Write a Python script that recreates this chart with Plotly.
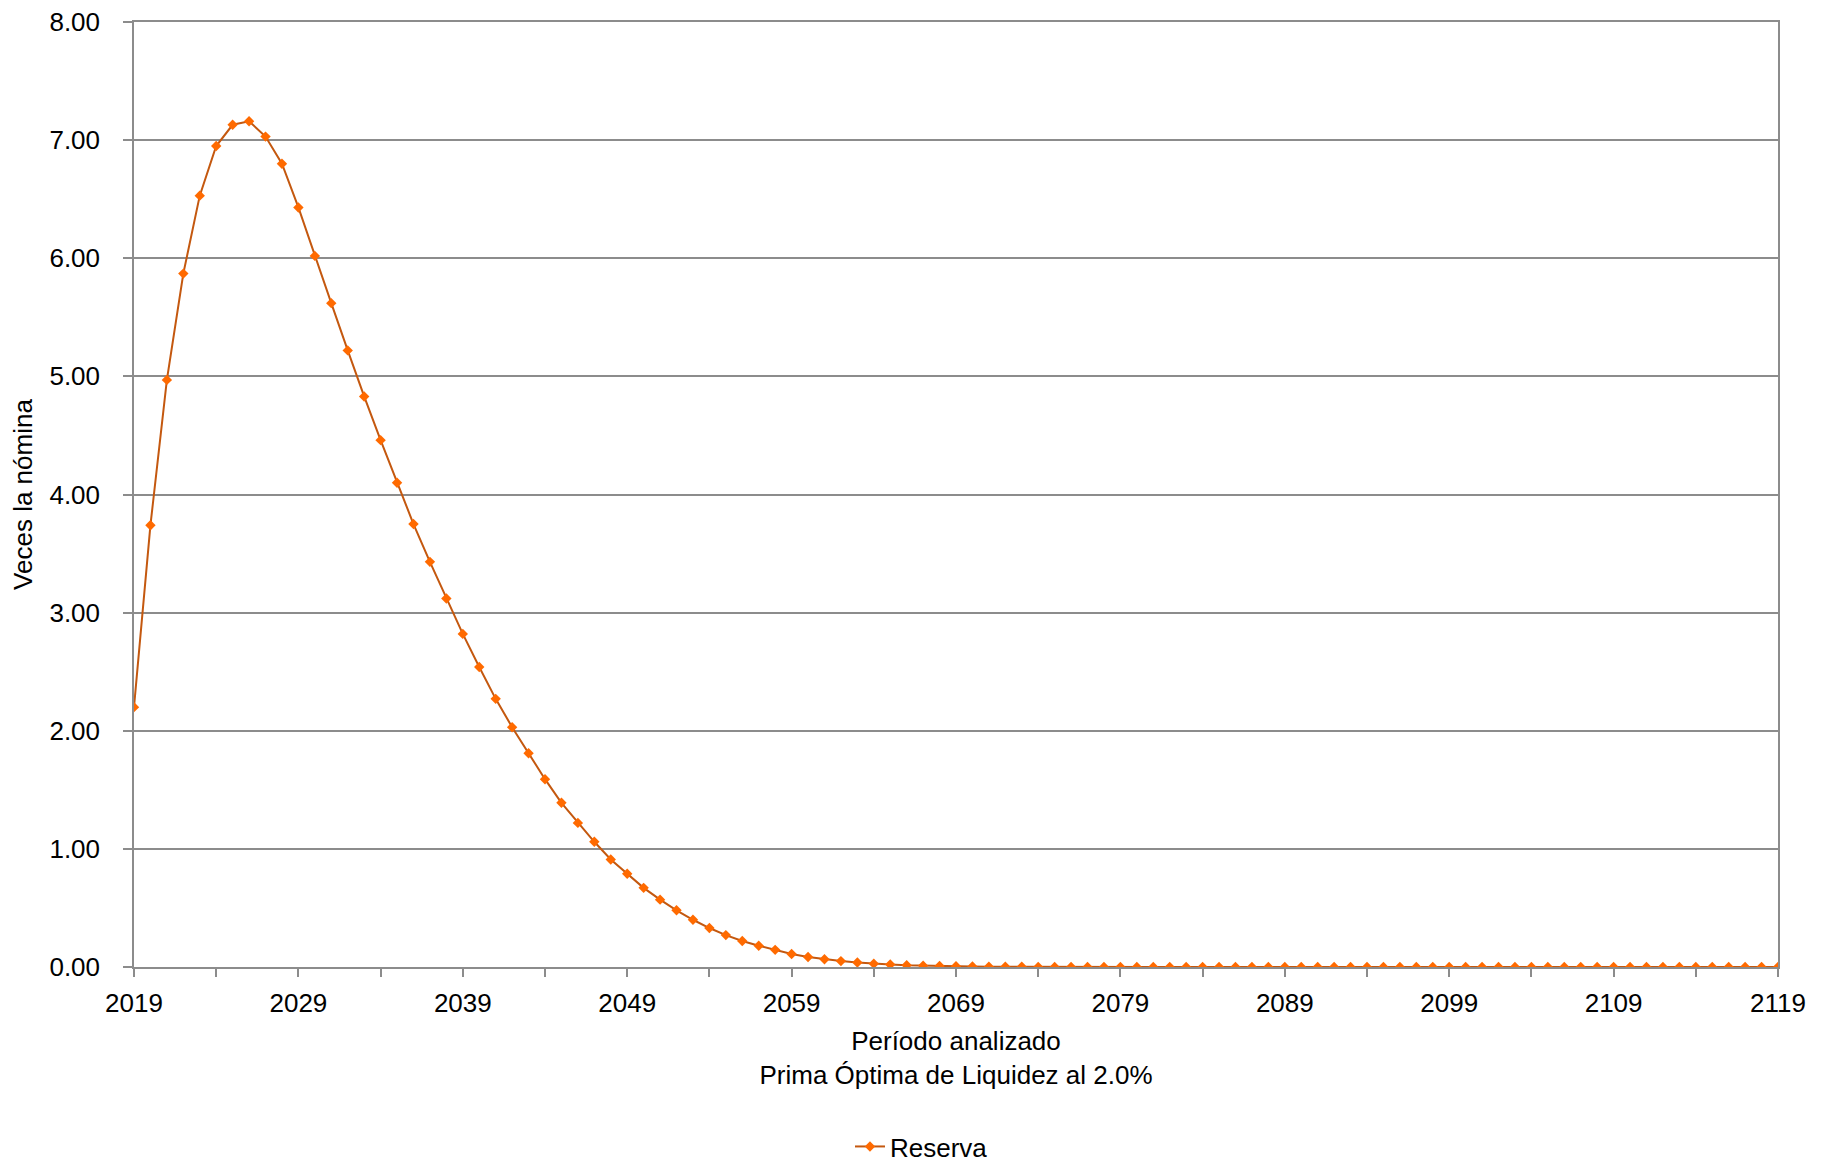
import plotly.graph_objects as go

years = list(range(2019, 2120))
reserva = [
    2.20, 3.74, 4.97, 5.87, 6.53, 6.95, 7.13, 7.16, 7.03, 6.80,
    6.43, 6.02, 5.62, 5.22, 4.83, 4.46, 4.10, 3.75, 3.43, 3.12,
    2.82, 2.54, 2.27, 2.03, 1.81, 1.59, 1.39, 1.22, 1.06, 0.91,
    0.79, 0.67, 0.57, 0.48, 0.40, 0.33, 0.27, 0.22, 0.18, 0.145,
    0.11, 0.085, 0.065, 0.05, 0.038, 0.028, 0.021, 0.015, 0.011, 0.008,
    0.006, 0.004, 0.003, 0.002, 0.0015, 0.001, 0.001, 0.0005, 0.0005, 0.0,
    0.0, 0.0, 0.0, 0.0, 0.0, 0.0, 0.0, 0.0, 0.0, 0.0,
    0.0, 0.0, 0.0, 0.0, 0.0, 0.0, 0.0, 0.0, 0.0, 0.0,
    0.0, 0.0, 0.0, 0.0, 0.0, 0.0, 0.0, 0.0, 0.0, 0.0,
    0.0, 0.0, 0.0, 0.0, 0.0, 0.0, 0.0, 0.0, 0.0, 0.0,
    0.0,
]
x_tick_vals = list(range(2019, 2120, 5))
x_tick_text = [str(v) if (v - 2019) % 10 == 0 else "" for v in x_tick_vals]
y_tick_vals = [0, 1, 2, 3, 4, 5, 6, 7, 8]
y_tick_text = ["0.00", "1.00", "2.00", "3.00", "4.00", "5.00", "6.00", "7.00", "8.00"]

FONT = "Liberation Sans, Arial, sans-serif"
GRID = "#8c8c8c"
FS = 26

fig = go.Figure()
fig.add_trace(go.Scatter(
    x=years, y=reserva, mode="lines+markers", name="Reserva",
    line=dict(color="#C4580F", width=2),
    marker=dict(symbol="diamond", size=8, color="#FF6A00"),
))

fig.update_layout(
    width=1821, height=1154,
    paper_bgcolor="white", plot_bgcolor="white",
    margin=dict(l=126, r=51, t=14, b=195, autoexpand=False),
    font=dict(family=FONT, size=FS, color="black"),
    showlegend=True,
    legend=dict(orientation="h", x=0.479, xanchor="center", y=-0.19, yanchor="middle",
                font=dict(size=FS)),
)
fig.update_xaxes(
    range=[2019, 2119], tickmode="array", tickvals=x_tick_vals, ticktext=x_tick_text,
    ticks="outside", ticklen=8, tickcolor=GRID, tickwidth=1.5,
    showline=True, linecolor=GRID, linewidth=1.5, mirror=True,
    showgrid=False, zeroline=False, automargin=False, ticklabeloverflow="allow",
    tickfont=dict(size=FS), ticklabelstandoff=4,
    title=dict(text="Período analizado<br>Prima Óptima de Liquidez al 2.0%", font=dict(size=FS), standoff=15),
)
fig.update_yaxes(
    range=[0, 8], tickmode="array", tickvals=y_tick_vals, ticktext=y_tick_text,
    ticks="outside", ticklen=9, tickcolor=GRID, tickwidth=1.5,
    showline=True, linecolor=GRID, linewidth=1.5, mirror=True,
    showgrid=True, gridcolor=GRID, gridwidth=1.5, zeroline=False, automargin=False,
    ticklabeloverflow="allow",
    tickfont=dict(size=FS), ticklabelstandoff=18,
    title=dict(text="Veces la nómina", font=dict(size=FS), standoff=14),
)

fig.write_html("out.html")
